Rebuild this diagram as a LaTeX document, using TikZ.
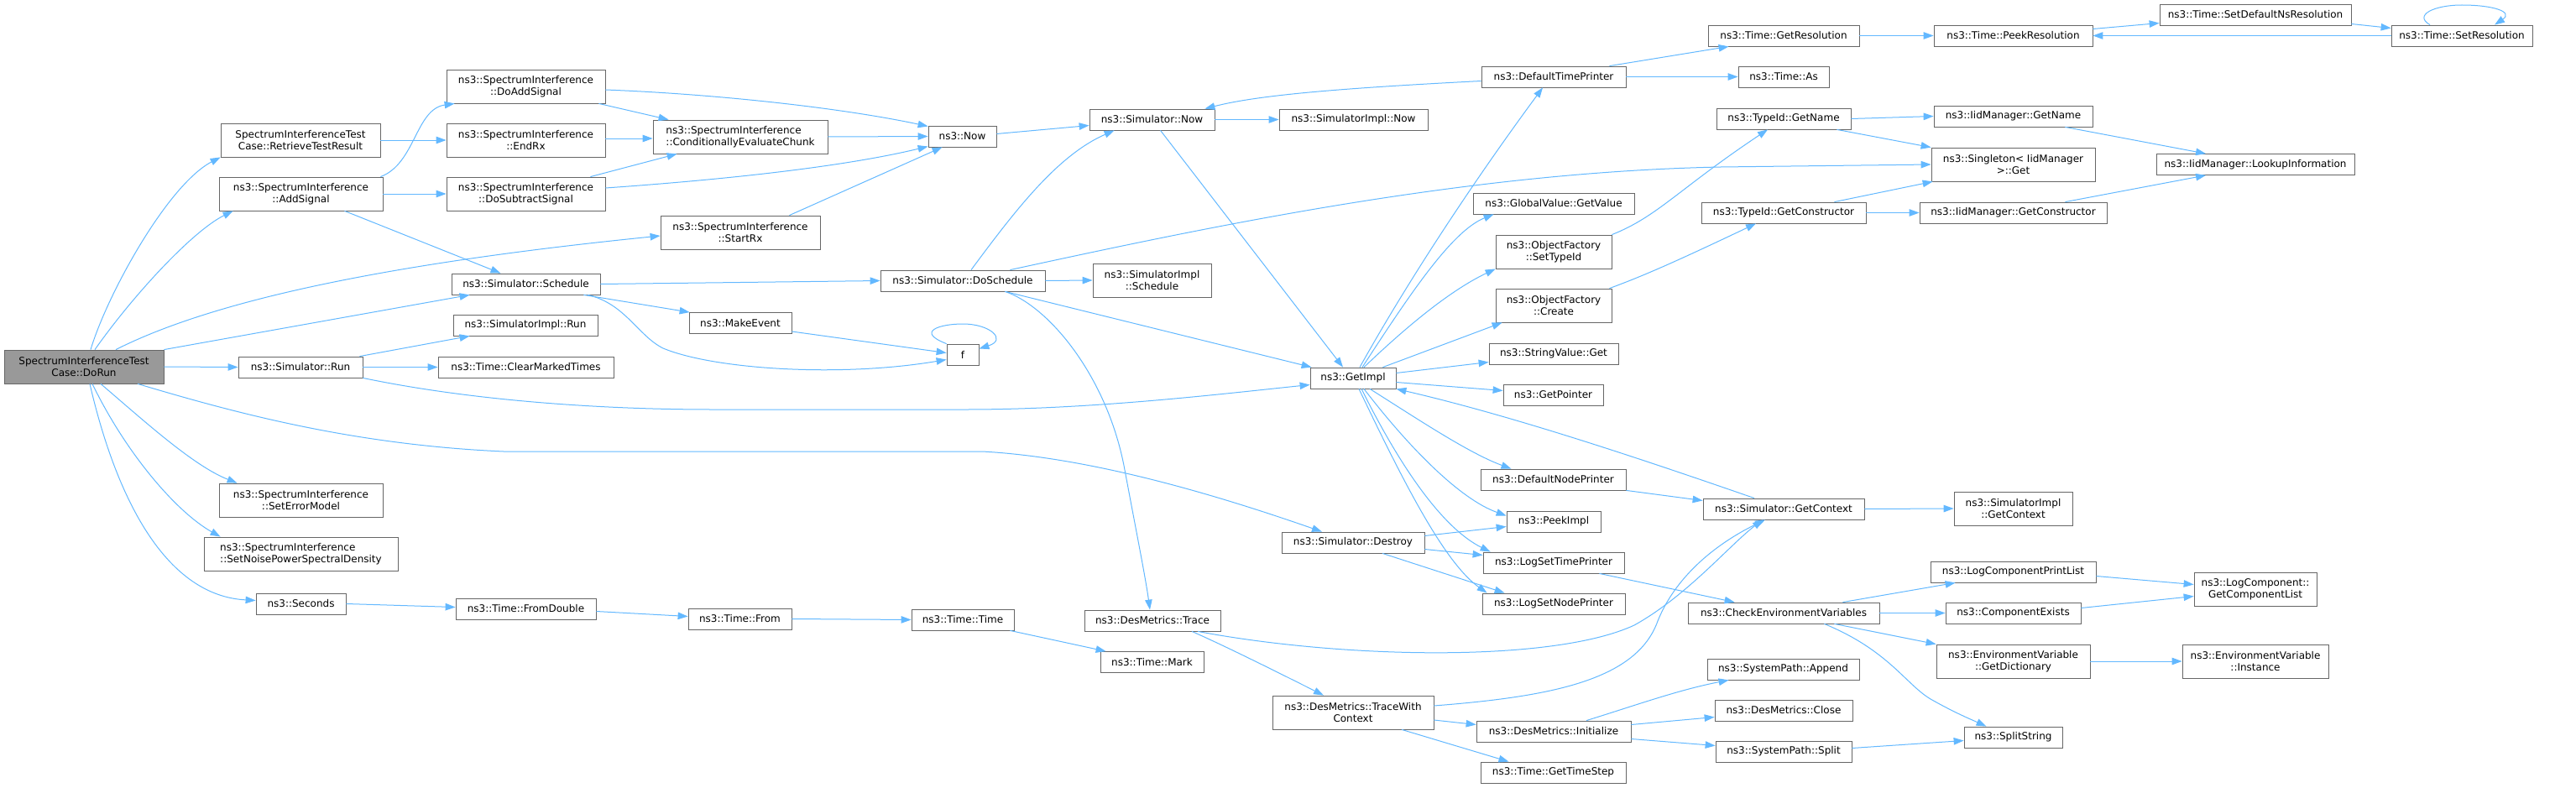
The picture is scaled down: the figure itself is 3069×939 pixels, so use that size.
\documentclass[tikz,border=0pt]{standalone}
\usepackage{fontspec}
\setmainfont{DejaVu Sans}
\usepackage{tikz}
\usetikzlibrary{arrows.meta}
\definecolor{callblue}{HTML}{63B8FF}
\definecolor{boxline}{HTML}{666666}
\definecolor{rootgray}{HTML}{999999}
\tikzset{
  fn/.style={draw=boxline, line width=0.8pt, fill=white, inner sep=0pt, minimum height=25,
    font=\fontsize{12}{14}\selectfont, align=center},
  fnn/.style={fn, minimum height=40},
  call/.style={draw=callblue, line width=1pt, -{Triangle[length=12pt,width=8.5pt]}}
}
\begin{document}
\begin{tikzpicture}[x=1pt,y=-1pt]
\useasboundingbox (0,0) rectangle (3069,939);
\node[fnn, fill=rootgray, minimum width=190] (dorun) at (100,437) {SpectrumInterferenceTest\\Case::DoRun};
\node[fnn, minimum width=190] (retrieve) at (358,167) {SpectrumInterferenceTest\\Case::RetrieveTestResult};
\node[fnn, minimum width=195] (addsig) at (358.5,231) {ns3::SpectrumInterference\\::AddSignal};
\node[fn, minimum width=148] (simrun) at (358,437.5) {ns3::Simulator::Run};
\node[fnn, minimum width=195] (seterr) at (358.5,596) {ns3::SpectrumInterference\\::SetErrorModel};
\node[fnn, minimum width=231, align=left] (setnoise) at (358.5,660) {ns3::SpectrumInterference\\::SetNoisePowerSpectralDensity};
\node[fn, minimum width=107] (seconds) at (358.5,719.5) {ns3::Seconds};
\node[fnn, minimum width=189] (doadd) at (626.5,103) {ns3::SpectrumInterference\\::DoAddSignal};
\node[fnn, minimum width=189] (endrx) at (626.5,167) {ns3::SpectrumInterference\\::EndRx};
\node[fnn, minimum width=189] (dosub) at (626.5,231) {ns3::SpectrumInterference\\::DoSubtractSignal};
\node[fn, minimum width=177] (schedule) at (626.5,338.5) {ns3::Simulator::Schedule};
\node[fn, minimum width=172] (implrun) at (626,387.5) {ns3::SimulatorImpl::Run};
\node[fn, minimum width=209] (clearmarked) at (626.5,437.5) {ns3::Time::ClearMarkedTimes};
\node[fn, minimum width=167] (fromdouble) at (626.5,725.5) {ns3::Time::FromDouble};
\node[fnn, minimum width=208, align=left] (chunk) at (882,163) {ns3::SpectrumInterference\\::ConditionallyEvaluateChunk};
\node[fnn, minimum width=190] (startrx) at (882,277) {ns3::SpectrumInterference\\::StartRx};
\node[fn, minimum width=122] (makeevent) at (882,385) {ns3::MakeEvent};
\node[fn, minimum width=123] (timefrom) at (881.5,737.5) {ns3::Time::From};
\node[fn, minimum width=81] (now) at (1146.5,162.5) {ns3::Now};
\node[fn, minimum width=196] (doschedule) at (1147,334.5) {ns3::Simulator::DoSchedule};
\node[fn, minimum width=38] (f) at (1147,422.5) {f};
\node[fn, minimum width=122] (timetime) at (1147,738.5) {ns3::Time::Time};
\node[fn, minimum width=149] (simnow) at (1372.5,142.5) {ns3::Simulator::Now};
\node[fnn, minimum width=141] (implschedule) at (1372.5,334) {ns3::SimulatorImpl\\::Schedule};
\node[fn, minimum width=162] (trace) at (1373,739.5) {ns3::DesMetrics::Trace};
\node[fn, minimum width=123] (mark) at (1372.5,789) {ns3::Time::Mark};
\node[fn, minimum width=177] (implnow) at (1612.5,142.5) {ns3::SimulatorImpl::Now};
\node[fn, minimum width=102] (getimpl) at (1612,450.5) {ns3::GetImpl};
\node[fn, minimum width=170] (destroy) at (1612,646.5) {ns3::Simulator::Destroy};
\node[fnn, minimum width=192] (tracewith) at (1612,849) {ns3::DesMetrics::TraceWith\\Context};
\node[fn, minimum width=172] (deftime) at (1851,91.5) {ns3::DefaultTimePrinter};
\node[fn, minimum width=192] (globalvalue) at (1851,242.5) {ns3::GlobalValue::GetValue};
\node[fnn, minimum width=138] (settypeid) at (1851,300) {ns3::ObjectFactory\\::SetTypeId};
\node[fnn, minimum width=138] (create) at (1851,364) {ns3::ObjectFactory\\::Create};
\node[fn, minimum width=154] (stringget) at (1851,421.5) {ns3::StringValue::Get};
\node[fn, minimum width=119] (getpointer) at (1850.5,470.5) {ns3::GetPointer};
\node[fn, minimum width=173] (defnode) at (1850.5,571.5) {ns3::DefaultNodePrinter};
\node[fn, minimum width=112] (peekimpl) at (1851,621.5) {ns3::PeekImpl};
\node[fn, minimum width=168] (logtime) at (1851,670.5) {ns3::LogSetTimePrinter};
\node[fn, minimum width=170] (lognode) at (1851,719.5) {ns3::LogSetNodePrinter};
\node[fn, minimum width=184] (initialize) at (1851,871.5) {ns3::DesMetrics::Initialize};
\node[fn, minimum width=173] (timestep) at (1850.5,920.5) {ns3::Time::GetTimeStep};
\node[fn, minimum width=180] (getres) at (2125,42.5) {ns3::Time::GetResolution};
\node[fn, minimum width=108] (timeas) at (2125,91.5) {ns3::Time::As};
\node[fn, minimum width=160] (tidname) at (2125,141.5) {ns3::TypeId::GetName};
\node[fn, minimum width=196] (tidctor) at (2125,253.5) {ns3::TypeId::GetConstructor};
\node[fn, minimum width=192] (getcontext) at (2125,606.5) {ns3::Simulator::GetContext};
\node[fn, minimum width=228] (checkenv) at (2125,730.5) {ns3::CheckEnvironmentVariables};
\node[fn, minimum width=181] (append) at (2124.5,797.5) {ns3::SystemPath::Append};
\node[fn, minimum width=164] (close) at (2125,846.5) {ns3::DesMetrics::Close};
\node[fn, minimum width=162] (split) at (2125,895.5) {ns3::SystemPath::Split};
\node[fn, minimum width=189] (peekres) at (2398.5,42.5) {ns3::Time::PeekResolution};
\node[fn, minimum width=189] (iidname) at (2398.5,138.5) {ns3::IidManager::GetName};
\node[fnn, minimum width=195] (singleton) at (2398.5,196) {ns3::Singleton< IidManager\\>::Get};
\node[fn, minimum width=223] (iidctor) at (2398.5,253.5) {ns3::IidManager::GetConstructor};
\node[fnn, minimum width=141] (implctx) at (2398.5,606) {ns3::SimulatorImpl\\::GetContext};
\node[fn, minimum width=197] (printlist) at (2398.5,681.5) {ns3::LogComponentPrintList};
\node[fn, minimum width=161] (exists) at (2398.5,730.5) {ns3::ComponentExists};
\node[fnn, minimum width=183] (getdict) at (2398.5,788) {ns3::EnvironmentVariable\\::GetDictionary};
\node[fn, minimum width=117] (splitstring) at (2398.5,878.5) {ns3::SplitString};
\node[fn, minimum width=228] (setdefns) at (2687,17.5) {ns3::Time::SetDefaultNsResolution};
\node[fn, minimum width=236] (lookup) at (2687,196) {ns3::IidManager::LookupInformation};
\node[fnn, minimum width=146] (complist) at (2687,702.5) {ns3::LogComponent::\\GetComponentList};
\node[fnn, minimum width=174] (instance) at (2687,788) {ns3::EnvironmentVariable\\::Instance};
\node[fn, minimum width=168] (setres) at (2933,42.5) {ns3::Time::SetResolution};
\draw[call] ([xshift=8]dorun.north) .. controls (128,350) and (200,220) .. (retrieve.south west);
\draw[call] ([xshift=13]dorun.north) .. controls (160,350) and (230,275) .. ([xshift=17]addsig.south west);
\draw[call] ([xshift=38]dorun.north) .. controls (250,360) and (450,315) .. ([yshift=-4]startrx.west);
\draw[call] (dorun.north east) -- ([xshift=22]schedule.south west);
\draw[call] (dorun.east) -- (simrun.west);
\draw[call] ([xshift=64]dorun.south) .. controls (280,492) and (420,530) .. (600,538) -- (1170,538) .. controls (1300,545) and (1450,590) .. ([xshift=-37]destroy.north);
\draw[call] ([xshift=20]dorun.south) .. controls (170,500) and (230,555) .. ([xshift=22]seterr.north west);
\draw[call] ([xshift=10]dorun.south) .. controls (150,540) and (210,610) .. ([xshift=20]setnoise.north west);
\draw[call] ([xshift=7]dorun.south) .. controls (140,600) and (200,710) .. ([yshift=4]seconds.west);
\draw[call] (retrieve.east) -- (endrx.west);
\draw[call] ([xshift=-3]addsig.north east) .. controls (495,195) and (495,130) .. ([xshift=10]doadd.south west);
\draw[call] (addsig.east) -- (dosub.west);
\draw[call] ([xshift=52]addsig.south) -- ([xshift=-30]schedule.north);
\draw[call] ([xshift=-4]simrun.north east) -- ([xshift=20]implrun.south west);
\draw[call] (simrun.east) -- (clearmarked.west);
\draw[call] (simrun.south east) .. controls (550,475) and (700,488) .. (850,488) -- (1150,488) .. controls (1300,488) and (1450,470) .. ([yshift=-8]getimpl.west);
\draw[call] (schedule.east) -- (doschedule.west);
\draw[call] ([xshift=-20]schedule.south east) -- ([xshift=1]makeevent.north west);
\draw[call] ([xshift=-15]schedule.south east) .. controls (745,362) and (760,400) .. (790,415) .. controls (850,440) and (1000,450) .. ([yshift=-6]f.west);
\draw[call] ([yshift=-10]makeevent.east) -- ([yshift=2]f.west);
\draw[call] (f.north west) .. controls (1090,395) and (1120,386) .. (1147,386) .. controls (1180,386) and (1200,405) .. ([yshift=7]f.east);
\draw[call] ([yshift=-4]doadd.east) .. controls (850,112) and (1000,128) .. ([yshift=12]now.west);
\draw[call] ([xshift=-8]doadd.south east) -- ([xshift=19]chunk.north west);
\draw[call] ([yshift=2]endrx.east) -- ([yshift=-2]chunk.west);
\draw[call] ([xshift=-18]dosub.north east) -- ([xshift=29]chunk.south west);
\draw[call] ([yshift=7]dosub.east) .. controls (850,215) and (1000,200) .. ([yshift=-12]now.west);
\draw[call] (chunk.east) -- (now.west);
\draw[call] ([xshift=-37]startrx.north east) -- ([xshift=17]now.south west);
\draw[call] ([yshift=3]now.east) -- ([yshift=-7]simnow.west);
\draw[call] (simnow.east) -- (implnow.west);
\draw[call] ([xshift=10]simnow.south) -- ([xshift=-12]getimpl.north);
\draw[call] ([yshift=-5]deftime.west) .. controls (1600,105) and (1500,113) .. ([xshift=-12]simnow.north east);
\draw[call] ([xshift=10]doschedule.north) .. controls (1210,250) and (1260,185) .. ([xshift=30]simnow.south west);
\draw[call] (doschedule.east) -- (implschedule.west);
\draw[call] ([xshift=-48]doschedule.south east) -- ([xshift=2]getimpl.north west);
\draw[call] ([xshift=-48]doschedule.south east) .. controls (1250,365) and (1320,450) .. (1340,560) .. controls (1355,640) and (1365,690) .. ([xshift=-3]trace.north);
\draw[call] ([xshift=-42]doschedule.north east) .. controls (1450,268) and (1750,205) .. (2050,199) -- (singleton.west);
\draw[call] ([xshift=8]getimpl.north) .. controls (1680,330) and (1760,210) .. ([xshift=-13]deftime.south);
\draw[call] ([xshift=11]getimpl.north) .. controls (1680,350) and (1730,275) .. ([xshift=25]globalvalue.south west);
\draw[call] ([xshift=13]getimpl.north) .. controls (1680,385) and (1730,345) .. (settypeid.south west);
\draw[call] ([xshift=-16]getimpl.north east) -- ([xshift=8]create.south west);
\draw[call] ([yshift=6]getimpl.east) -- ([yshift=-10]stringget.west);
\draw[call] ([yshift=-5]getimpl.east) -- ([yshift=5]getpointer.west);
\draw[call] ([xshift=20]getimpl.south) .. controls (1690,500) and (1750,540) .. ([xshift=-50]defnode.north);
\draw[call] ([xshift=13]getimpl.south) .. controls (1680,535) and (1740,595) .. ([yshift=7]peekimpl.west);
\draw[call] ([xshift=10]getimpl.south) .. controls (1670,560) and (1720,630) .. ([xshift=9]logtime.north west);
\draw[call] ([xshift=7]getimpl.south) .. controls (1670,570) and (1720,670) .. ([xshift=6]lognode.north west);
\draw[call] ([xshift=-35]getcontext.north) .. controls (1950,545) and (1800,495) .. (getimpl.south east);
\draw[call] ([yshift=8]destroy.east) -- ([yshift=-6]peekimpl.west);
\draw[call] ([yshift=-8]destroy.east) -- ([yshift=9]logtime.west);
\draw[call] ([xshift=35]destroy.south) -- ([xshift=27]lognode.north west);
\draw[call] (defnode.south east) -- ([yshift=10]getcontext.west);
\draw[call] ([xshift=-30]logtime.south east) -- ([xshift=56]checkenv.north west);
\draw[call] ([xshift=47]trace.south) .. controls (1460,770) and (1520,800) .. ([xshift=-35]tracewith.north);
\draw[call] ([xshift=54]trace.south) .. controls (1600,785) and (1850,790) .. (1947,745) .. controls (2010,710) and (2060,650) .. ([xshift=-25]getcontext.south);
\draw[call] ([yshift=8]tracewith.east) .. controls (1850,830) and (1950,810) .. (1975,740) .. controls (1995,690) and (2040,650) .. ([xshift=-22]getcontext.south);
\draw[call] ([yshift=-9]tracewith.east) -- ([yshift=8]initialize.west);
\draw[call] ([xshift=58]tracewith.south) -- ([xshift=-53]timestep.north);
\draw[call] ([xshift=39]initialize.north) .. controls (1950,840) and (2000,822) .. ([xshift=26]append.south west);
\draw[call] ([yshift=8]initialize.east) -- ([yshift=-8]close.west);
\draw[call] ([yshift=-9]initialize.east) -- ([yshift=7]split.west);
\draw[call] ([xshift=-20]deftime.north east) -- ([xshift=25]getres.south west);
\draw[call] (deftime.east) -- (timeas.west);
\draw[call] (getres.east) -- (peekres.west);
\draw[call] ([yshift=8]peekres.east) -- ([yshift=-10]setdefns.west);
\draw[call] ([yshift=-11]setdefns.east) -- ([yshift=9]setres.west);
\draw[call] (setres.west) -- (peekres.east);
\draw[call] ([xshift=-38]setres.north) .. controls (2875,18) and (2900,6) .. (2933,6) .. controls (2970,6) and (2995,14) .. ([xshift=39]setres.north);
\draw[call] (settypeid.north east) .. controls (1975,258) and (2000,225) .. ([xshift=-19]tidname.south);
\draw[call] ([xshift=-3]create.north east) .. controls (1960,328) and (2000,310) .. ([xshift=-33]tidctor.south);
\draw[call] (tidname.east) -- (iidname.west);
\draw[call] ([xshift=-17]tidname.south east) -- (singleton.north west);
\draw[call] ([xshift=-38]tidctor.north east) -- ([xshift=2]singleton.south west);
\draw[call] (tidctor.east) -- (iidctor.west);
\draw[call] ([xshift=-33]iidname.south east) -- ([xshift=-59]lookup.north);
\draw[call] ([xshift=-50]iidctor.north east) -- ([xshift=-59]lookup.south);
\draw[call] (getcontext.east) -- (implctx.west);
\draw[call] ([xshift=-44]checkenv.north east) -- ([xshift=30]printlist.south west);
\draw[call] (checkenv.east) -- (exists.west);
\draw[call] ([xshift=-54]checkenv.south east) -- (getdict.north west);
\draw[call] ([xshift=-66]checkenv.south east) .. controls (2250,775) and (2270,815) .. (2300,833) .. controls (2330,850) and (2350,858) .. ([xshift=-32]splitstring.north);
\draw[call] ([yshift=-5]printlist.east) -- ([yshift=6]complist.west);
\draw[call] ([yshift=6]exists.east) -- ([yshift=-8]complist.west);
\draw[call] (getdict.east) -- (instance.west);
\draw[call] ([yshift=4]split.east) -- ([yshift=-4]splitstring.west);
\draw[call] (seconds.east) -- ([yshift=2]fromdouble.west);
\draw[call] ([yshift=-3]fromdouble.east) -- ([yshift=3]timefrom.west);
\draw[call] (timefrom.east) -- (timetime.west);
\draw[call] ([xshift=-5]timetime.south east) -- ([xshift=7]mark.north west);
\end{tikzpicture}
\end{document}
